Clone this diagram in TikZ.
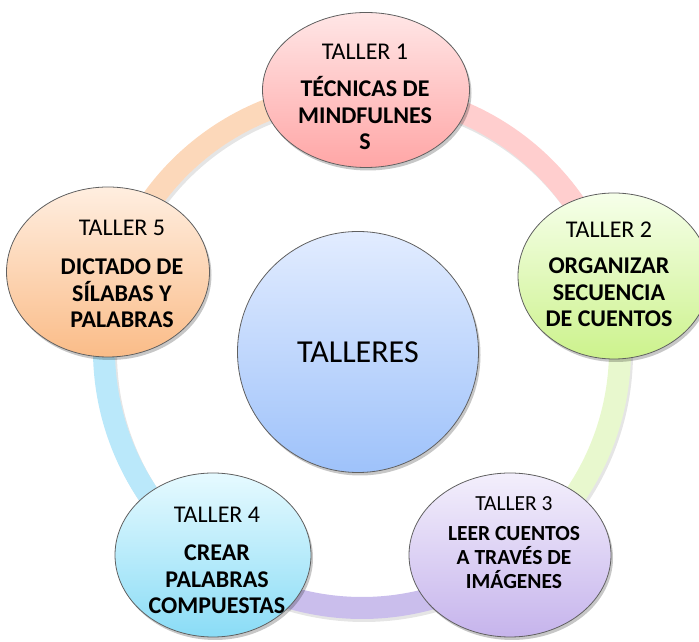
\documentclass[tikz,border=0pt]{standalone}
\usepackage{fontspec}
\setmainfont{Carlito}
\usetikzlibrary{shadows,calc,shapes.geometric}
\definecolor{pinkTop}{RGB}{255,230,230}
\definecolor{pinkBot}{RGB}{255,166,166}
\definecolor{greenTop}{RGB}{246,255,234}
\definecolor{greenBot}{RGB}{204,242,140}
\definecolor{purpleTop}{RGB}{243,239,252}
\definecolor{purpleBot}{RGB}{198,180,236}
\definecolor{cyanTop}{RGB}{230,250,255}
\definecolor{cyanBot}{RGB}{138,220,246}
\definecolor{peachTop}{RGB}{255,238,224}
\definecolor{peachBot}{RGB}{250,188,136}
\definecolor{blueTop}{RGB}{226,236,255}
\definecolor{blueBot}{RGB}{158,194,250}
\definecolor{ringPink}{RGB}{255,206,206}
\definecolor{ringGreen}{RGB}{232,248,206}
\definecolor{ringPurple}{RGB}{202,190,236}
\definecolor{ringCyan}{RGB}{186,232,250}
\definecolor{ringPeach}{RGB}{252,216,186}
\definecolor{edge}{RGB}{96,96,96}
\tikzset{
  ringarc/.style={line width=22pt},
  ringshadow/.style={line width=22pt, draw=black, opacity=0.10},
  sat/.style={ellipse, draw=edge, line width=0.8pt, inner sep=0pt,
    drop shadow={shadow xshift=2pt, shadow yshift=-3pt, opacity=0.22, fill=black}},
  hub/.style={circle, draw=edge, line width=0.8pt, inner sep=0pt,
    drop shadow={shadow xshift=2pt, shadow yshift=-3pt, opacity=0.22, fill=black}},
  bigtxt/.style={align=center, inner sep=0pt, font=\fontsize{24}{26.5}\selectfont},
  midtxt/.style={align=center, inner sep=0pt, font=\fontsize{21.5}{24}\selectfont},
}
\begin{document}
\begin{tikzpicture}[x=1pt,y=1pt]
\useasboundingbox (0,0) rectangle (699,642);
\coordinate (rc) at (362,292);
% ring shadows
\foreach \a/\b in {90/18,18/-54,-54/-126,-126/-198,162/90}{
  \draw[ringshadow] ($(rc)+(\a:258pt)+(2,-3)$) arc[start angle=\a, end angle=\b, radius=258pt];
}
% ring arcs
\draw[ringarc, draw=ringPink]   ($(rc)+(90:258pt)$)  arc[start angle=90,  end angle=18,   radius=258pt];
\draw[ringarc, draw=ringGreen]  ($(rc)+(18:258pt)$)  arc[start angle=18,  end angle=-54,  radius=258pt];
\draw[ringarc, draw=ringPurple] ($(rc)+(-54:258pt)$) arc[start angle=-54, end angle=-126, radius=258pt];
\draw[ringarc, draw=ringCyan]   ($(rc)+(-126:258pt)$) arc[start angle=-126, end angle=-198, radius=258pt];
\draw[ringarc, draw=ringPeach]  ($(rc)+(162:258pt)$) arc[start angle=162, end angle=90,   radius=258pt];
% hub
\node[hub, top color=blueTop, bottom color=blueBot, minimum size=241pt,
      font=\fontsize{32}{36}\selectfont] (hub) at (358,290) {TALLERES};
% satellites
\node[sat, top color=pinkTop, bottom color=pinkBot, minimum width=207pt, minimum height=155pt] (t1) at (366,552) {};
\node[sat, top color=greenTop, bottom color=greenBot, minimum width=192pt, minimum height=166pt] (t2) at (614,366) {};
\node[sat, top color=purpleTop, bottom color=purpleBot, minimum width=202pt, minimum height=164pt] (t3) at (510,87) {};
\node[sat, top color=cyanTop, bottom color=cyanBot, minimum width=196pt, minimum height=164pt] (t4) at (213,87) {};
\node[sat, top color=peachTop, bottom color=peachBot, minimum width=203pt, minimum height=170pt] (t5) at (108,370) {};
% texts
\node[bigtxt] (t1txt) at (365,545) {TALLER 1\\[10.5pt]\textbf{TÉCNICAS DE}\\\textbf{MINDFULNES}\\\textbf{S}};
\node[bigtxt] (t2txt) at (609,367.5) {TALLER 2\\[9.5pt]\textbf{ORGANIZAR}\\\textbf{SECUENCIA}\\\textbf{DE CUENTOS}};
\node[midtxt] (t3txt) at (514,99.5) {TALLER 3\\[6pt]\textbf{LEER CUENTOS}\\\textbf{A TRAVÉS DE}\\\textbf{IMÁGENES}};
\node[bigtxt] (t4txt) at (217,81.5) {TALLER 4\\[12pt]\textbf{CREAR}\\\textbf{PALABRAS}\\\textbf{COMPUESTAS}};
\node[bigtxt] (t5txt) at (122,368) {TALLER 5\\[12.5pt]\textbf{DICTADO DE}\\\textbf{SÍLABAS Y}\\\textbf{PALABRAS}};
\end{tikzpicture}
\end{document}
